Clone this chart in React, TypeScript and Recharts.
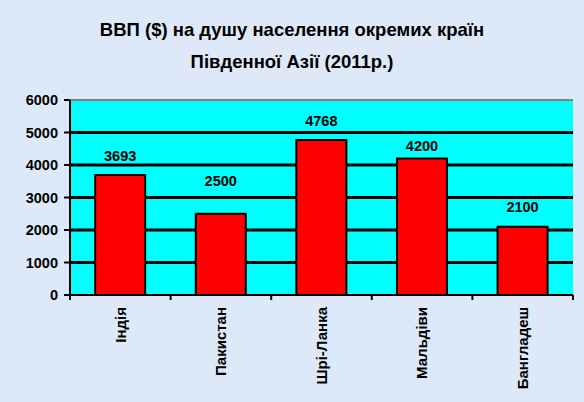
import { BarChart, Bar, XAxis, YAxis, CartesianGrid, LabelList, ReferenceLine } from 'recharts'

const countries = ['Індія', 'Пакистан', 'Шрі-Ланка', 'Мальдіви', 'Бангладеш']
const gdpPerCapita = [3693, 2500, 4768, 4200, 2100]
const yTicks = [0, 1000, 2000, 3000, 4000, 5000, 6000]
const gridValues = [1000, 2000, 3000, 4000, 5000]

const data = countries.map((name, i) => ({ name, gdp: gdpPerCapita[i] }))

const FONT = '"Liberation Sans", Arial, Helvetica, sans-serif'

function CountryTick(props: any) {
  const { x, y, payload, index } = props
  const half = payload?.offset ?? 0
  return (
    <g>
      <line x1={x + half} x2={x + half} y1={y} y2={y + 5} stroke="#000" strokeWidth={2} />
      {index === 0 && <line x1={x - half} x2={x - half} y1={y} y2={y + 5} stroke="#000" strokeWidth={2} />}
      <text
        transform={`translate(${x},${y + 12}) rotate(-90)`}
        textAnchor="end"
        dy="0.35em"
        fontSize={15}
        fontWeight="bold"
        fontFamily={FONT}
        fill="#000"
      >
        {payload.value}
      </text>
    </g>
  )
}

// value label above the bar, moved off the gridlines like the Excel original
function ValueLabel(props: any) {
  const vb = props.viewBox || {}
  const x = props.x ?? vb.x
  const y = props.y ?? vb.y
  const width = props.width ?? vb.width
  const height = props.height ?? vb.height
  const value = Number(props.value)
  if (!value || !height) return null
  const ppu = height / value
  const bottom = y + height
  const toY = (v: number) => bottom - v * ppu
  let c = y - 19.5
  for (const g of gridValues) {
    const gy = toY(g)
    if (Math.abs(c - gy) < 8) {
      if (y - gy >= 20) {
        c = (y + gy) / 2
      } else {
        const next = yTicks.find((t) => t > g) ?? g
        c = (gy + toY(next)) / 2
      }
      break
    }
  }
  return (
    <text
      x={x + width / 2}
      y={c}
      dy="0.35em"
      textAnchor="middle"
      fontSize={14.5}
      fontWeight="bold"
      fontFamily={FONT}
      fill="#000"
    >
      {props.value}
    </text>
  )
}

export default function App() {
  return (
    <div style={{ position: 'relative', width: 584, height: 402, background: '#dde9f8', fontFamily: FONT }}>
      <style>{`body{margin:0}`}</style>
      <div
        style={{
          position: 'absolute',
          top: 14,
          left: 0,
          width: 584,
          textAlign: 'center',
          fontSize: 18.5,
          fontWeight: 'bold',
          lineHeight: '32px',
          color: '#000',
        }}
      >
        ВВП ($) на душу населення окремих країн
        <br />
        Південної Азії (2011р.)
      </div>
      <BarChart
        width={584}
        height={402}
        data={data}
        margin={{ top: 100, right: 11, left: 0, bottom: 0 }}
        barCategoryGap="25%"
        style={{ position: 'absolute', top: 0, left: 0 }}
      >
        <CartesianGrid
          vertical={false}
          horizontalValues={gridValues}
          stroke="#000"
          strokeWidth={3}
          fill="#00ffff"
          fillOpacity={1}
        />
        <XAxis
          dataKey="name"
          height={107}
          interval={0}
          tickLine={false}
          tickSize={0}
          tickMargin={0}
          axisLine={{ stroke: '#000', strokeWidth: 2 }}
          tick={<CountryTick />}
        />
        <YAxis
          width={70}
          domain={[0, 6000]}
          ticks={yTicks}
          interval={0}
          tickSize={6}
          tickMargin={6}
          tickLine={{ stroke: '#000', strokeWidth: 2 }}
          axisLine={{ stroke: '#000', strokeWidth: 2 }}
          tick={{ fill: '#000', fontSize: 14.5, fontWeight: 'bold', fontFamily: FONT }}
        />
        <YAxis
          yAxisId="r"
          orientation="right"
          width={0}
          tick={false}
          tickLine={false}
          axisLine={{ stroke: '#808080', strokeWidth: 2 }}
        />
        <ReferenceLine y={6000} stroke="#808080" strokeWidth={2} />
        <Bar dataKey="gdp" fill="#ff0000" stroke="#000" strokeWidth={2} isAnimationActive={false}>
          <LabelList dataKey="gdp" position="top" content={<ValueLabel />} />
        </Bar>
      </BarChart>
    </div>
  )
}
